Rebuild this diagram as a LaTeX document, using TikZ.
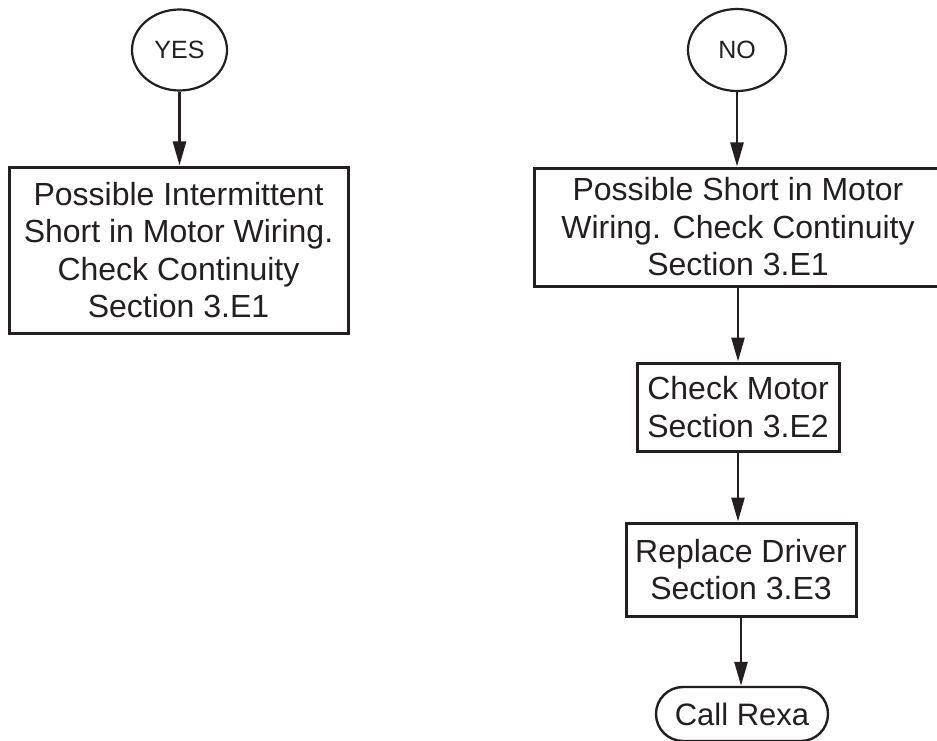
\documentclass[tikz,border=0pt]{standalone}
\usepackage{fontspec}
\setmainfont{Liberation Sans}
\usetikzlibrary{arrows.meta,shapes.geometric,shapes.misc}
\definecolor{ink}{HTML}{231F20}
\begin{document}
\begin{tikzpicture}[x=1pt,y=-1pt,
  every node/.style={text=ink},
  stepbox/.style={draw=ink,line width=3pt,rectangle,align=center,inner sep=0pt,
    font=\fontsize{32}{37.5}\selectfont},
  answer/.style={draw=ink,line width=2.2pt,ellipse,inner sep=0pt,
    font=\fontsize{25}{30}\selectfont},
  terminal/.style={draw=ink,line width=2.4pt,rounded rectangle,inner sep=0pt,
    font=\fontsize{31}{36}\selectfont},
  flow/.style={draw=ink,line width=2.6pt,-{Triangle[length=24pt,width=13pt]}}]
\useasboundingbox (0,0) rectangle (937,741);

% left branch
\node[answer,minimum width=95pt,minimum height=81pt] (yes) at (179.5,50) {YES};
\node[stepbox,minimum width=339pt,minimum height=166pt] (b1) at (178.5,250)
  {Possible Intermittent\\Short in Motor Wiring.\\Check Continuity\\Section 3.E1};

% right branch
\node[answer,minimum width=98pt,minimum height=82pt] (no) at (737,50) {NO};
\node[stepbox,minimum width=408pt,minimum height=118pt] (b2) at (738,227)
  {Possible Short in Motor\\Wiring. Check Continuity\\Section 3.E1};
\node[stepbox,minimum width=202pt,minimum height=88pt] (b3) at (738,407)
  {Check Motor\\Section 3.E2};
\node[stepbox,minimum width=230pt,minimum height=93pt] (b4) at (741,569.5)
  {Replace Driver\\Section 3.E3};
\node[terminal,minimum width=172pt,minimum height=54pt] (call) at (742,714)
  {Call Rexa};

% connectors
\draw[flow] (yes.south) -- (yes.south |- b1.north);
\draw[flow] (no.south) -- (no.south |- b2.north);
\draw[flow] (b2.south) -- (b2.south |- b3.north);
\draw[flow] (b3.south) -- (b3.south |- b4.north);
\draw[flow] (b4.south) -- (b4.south |- call.north);
\end{tikzpicture}
\end{document}
